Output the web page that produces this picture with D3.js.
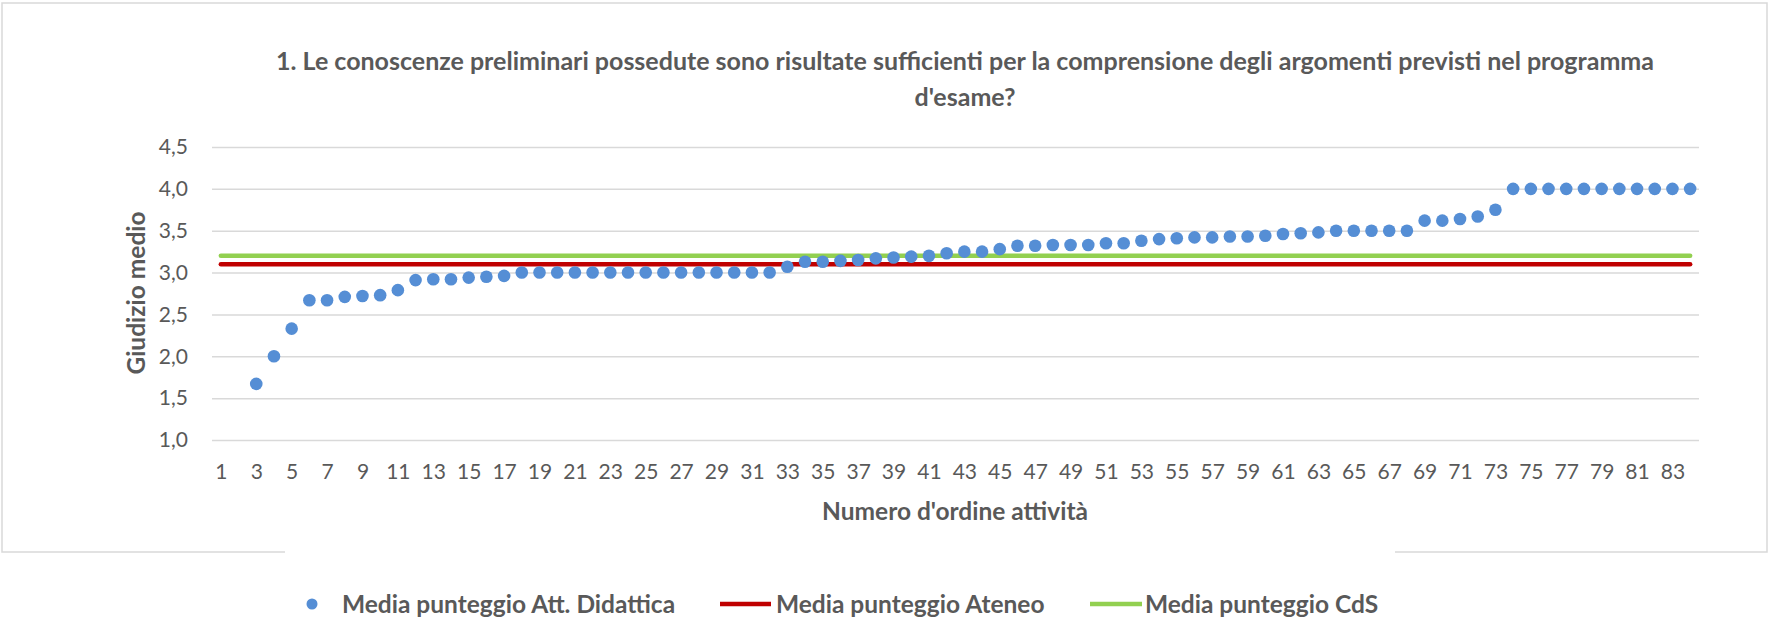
<!DOCTYPE html>
<html>
<head>
<meta charset="utf-8">
<title>Giudizio medio per attività</title>
<script src="https://d3js.org/d3.v7.min.js"></script>
<style>
    body { margin: 0; background: #fff; }
    text { font-family: Lato, "Open Sans", sans-serif; fill: #595959; }
</style>
</head>
<body>
<svg id="chart" width="1769" height="619"></svg>
<script>
// dati
var categorie = [1, 2, 3, 4, 5, 6, 7, 8, 9, 10, 11, 12, 13, 14, 15, 16, 17, 18, 19, 20,
    21, 22, 23, 24, 25, 26, 27, 28, 29, 30, 31, 32, 33, 34, 35, 36, 37, 38, 39, 40,
    41, 42, 43, 44, 45, 46, 47, 48, 49, 50, 51, 52, 53, 54, 55, 56, 57, 58, 59, 60,
    61, 62, 63, 64, 65, 66, 67, 68, 69, 70, 71, 72, 73, 74, 75, 76, 77, 78, 79, 80,
    81, 82, 83, 84];
var mediaAttDidattica = [null, null, 1.67, 2.00, 2.33, 2.67, 2.67, 2.71, 2.72, 2.73,
    2.79, 2.91, 2.92, 2.92, 2.94, 2.95, 2.96, 3.00, 3.00, 3.00,
    3.00, 3.00, 3.00, 3.00, 3.00, 3.00, 3.00, 3.00, 3.00, 3.00,
    3.00, 3.00, 3.07, 3.13, 3.13, 3.14, 3.15, 3.17, 3.18, 3.19,
    3.20, 3.23, 3.25, 3.25, 3.28, 3.32, 3.32, 3.33, 3.33, 3.33,
    3.35, 3.35, 3.38, 3.40, 3.41, 3.42, 3.42, 3.43, 3.43, 3.44,
    3.46, 3.47, 3.48, 3.50, 3.50, 3.50, 3.50, 3.50, 3.62, 3.62,
    3.64, 3.67, 3.75, 4.00, 4.00, 4.00, 4.00, 4.00, 4.00, 4.00,
    4.00, 4.00, 4.00, 4.00];
var mediaAteneo = [3.10];
var mediaCdS = [3.20];
var yTicks = [1.0, 1.5, 2.0, 2.5, 3.0, 3.5, 4.0, 4.5];
var xTicks = [1, 3, 5, 7, 9, 11, 13, 15, 17, 19, 21, 23, 25, 27, 29, 31, 33, 35, 37, 39,
    41, 43, 45, 47, 49, 51, 53, 55, 57, 59, 61, 63, 65, 67, 69, 71, 73, 75, 77, 79, 81, 83];
var titolo = ["1. Le conoscenze preliminari possedute sono risultate sufficienti per la comprensione degli argomenti previsti nel programma",
    "d'esame?"];
var legenda = ["Media punteggio Att. Didattica", "Media punteggio Ateneo", "Media punteggio CdS"];

var colBlu = "#558ed5", colRosso = "#c00000", colVerde = "#92d050", colGriglia = "#d9d9d9";

var svg = d3.select("#chart");
var pLeft = 212, pRight = 1699, pTop = 147, pBottom = 440;

var it = d3.formatLocale({decimal: ",", thousands: ".", grouping: [3], currency: ["", "€"]});
var fmt = it.format(".1f");

var x = d3.scalePoint().domain(categorie).range([pLeft, pRight]).padding(0.5);
var y = d3.scaleLinear().domain([1, 4.5]).range([pBottom, pTop]);

// cornice del grafico
svg.append("rect")
    .attr("x", 2).attr("y", 3)
    .attr("width", 1765).attr("height", 549)
    .attr("fill", "#fff")
    .attr("stroke", colGriglia).attr("stroke-width", 1.5);

// titolo
svg.selectAll(".titolo").data(titolo).enter().append("text")
    .attr("class", "titolo")
    .attr("x", 965)
    .attr("y", function(d, i){ return 61 + i * 36; })
    .attr("dy", "0.36em")
    .attr("text-anchor", "middle")
    .attr("font-size", 25)
    .attr("font-weight", "bold")
    .text(function(d){ return d; });

// griglia orizzontale
var griglia = svg.append("g")
    .attr("transform", "translate(" + pLeft + ",0)")
    .call(d3.axisLeft(y).tickValues(yTicks).tickSize(-(pRight - pLeft)).tickFormat(""));
griglia.select(".domain").remove();
griglia.selectAll("line").attr("stroke", colGriglia).attr("stroke-width", 1.5);

// asse y
var asseY = svg.append("g")
    .attr("transform", "translate(188,0)")
    .call(d3.axisLeft(y).tickValues(yTicks).tickSize(0).tickPadding(0).tickFormat(fmt));
asseY.select(".domain").remove();
asseY.selectAll("text")
    .attr("font-size", 21)
    .attr("font-family", "Lato, sans-serif")
    .attr("fill", "#595959");

// asse x
var asseX = svg.append("g")
    .attr("transform", "translate(0," + pBottom + ")")
    .call(d3.axisBottom(x).tickValues(xTicks).tickSize(0));
asseX.select(".domain").remove();
asseX.selectAll("text")
    .attr("y", 31.5)
    .attr("dy", "0.36em")
    .attr("font-size", 21)
    .attr("font-family", "Lato, sans-serif")
    .attr("fill", "#595959");

// titoli assi
svg.append("text")
    .attr("x", 955).attr("y", 511).attr("dy", "0.36em")
    .attr("text-anchor", "middle")
    .attr("font-size", 24.5).attr("font-weight", "bold")
    .text("Numero d'ordine attività");

svg.append("text")
    .attr("transform", "translate(136,293) rotate(-90)")
    .attr("dy", "0.36em")
    .attr("text-anchor", "middle")
    .attr("font-size", 24.5).attr("font-weight", "bold")
    .text("Giudizio medio");

// linee medie
var primo = categorie[0], ultimo = categorie[categorie.length - 1];
svg.selectAll(".ateneo").data(mediaAteneo).enter().append("line")
    .attr("class", "ateneo")
    .attr("x1", x(primo)).attr("x2", x(ultimo))
    .attr("y1", function(d){ return y(d); }).attr("y2", function(d){ return y(d); })
    .attr("stroke", colRosso).attr("stroke-width", 4.5).attr("stroke-linecap", "round");
svg.selectAll(".cds").data(mediaCdS).enter().append("line")
    .attr("class", "cds")
    .attr("x1", x(primo)).attr("x2", x(ultimo))
    .attr("y1", function(d){ return y(d); }).attr("y2", function(d){ return y(d); })
    .attr("stroke", colVerde).attr("stroke-width", 4.5).attr("stroke-linecap", "round");

// punti
var punti = categorie.map(function(c, i){ return {c: c, v: mediaAttDidattica[i]}; })
    .filter(function(d){ return d.v != null; });
svg.selectAll(".punto").data(punti).enter().append("circle")
    .attr("class", "punto")
    .attr("cx", function(d){ return x(d.c); })
    .attr("cy", function(d){ return y(d.v); })
    .attr("r", 6.3)
    .attr("fill", colBlu);

// legenda (copre il bordo inferiore come nell'originale)
svg.append("rect")
    .attr("x", 285).attr("y", 548)
    .attr("width", 1110).attr("height", 71)
    .attr("fill", "#fff");

var leg = svg.append("g").attr("transform", "translate(0,604)");
leg.append("circle").attr("cx", 312).attr("cy", 0).attr("r", 5.5).attr("fill", colBlu);
leg.append("line").attr("x1", 720).attr("x2", 771).attr("stroke", colRosso).attr("stroke-width", 4.5);
leg.append("line").attr("x1", 1090).attr("x2", 1142).attr("stroke", colVerde).attr("stroke-width", 4.5);
var legX = [342, 776, 1145];
leg.selectAll("text").data(legenda).enter().append("text")
    .attr("x", function(d, i){ return legX[i]; })
    .attr("dy", "0.36em")
    .attr("font-size", 24.5).attr("font-weight", "bold")
    .text(function(d){ return d; });
</script>
</body>
</html>
